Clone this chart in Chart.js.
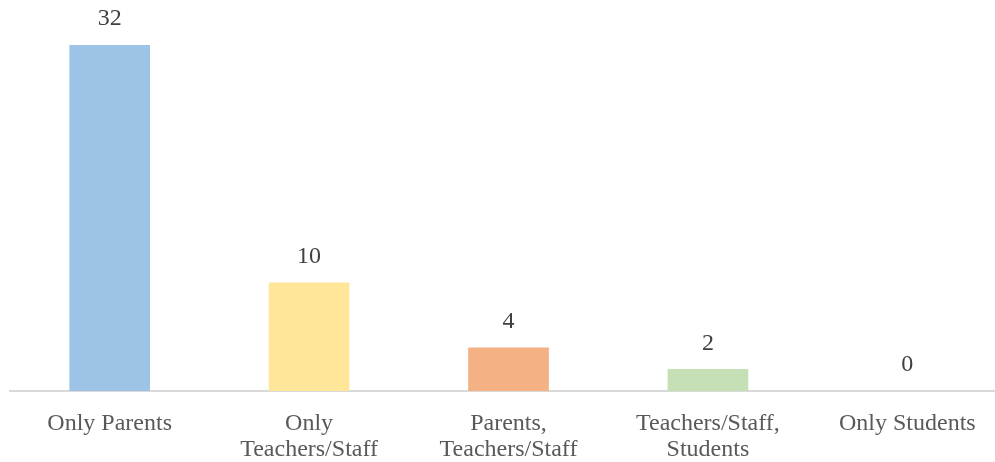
<!DOCTYPE html>
<html lang="en">
<head>
    <meta charset="UTF-8">
    <title>Respondent Groups</title>
    <script src="https://cdn.jsdelivr.net/npm/chart.js"></script>
    <style>
        body {
            margin: 0;
            background: #ffffff;
            overflow: hidden;
        }
        .chart-container {
            width: 1010px;
            height: 462px;
        }
    </style>
</head>
<body>
<div class="chart-container">
    <canvas id="groupChart" width="1010" height="462"></canvas>
</div>

<script>
    // categories (multi-line labels) and counts
    const categories = [
        ['Only Parents'],
        ['Only', 'Teachers/Staff'],
        ['Parents,', 'Teachers/Staff'],
        ['Teachers/Staff,', 'Students'],
        ['Only Students']
    ];
    const counts = [32, 10, 4, 2, 0];
    const barColors = ['#9dc3e6', '#ffe699', '#f4b183', '#c5e0b4', '#d9d9d9'];

    // writes the count above each bar
    const valueLabels = {
        id: 'valueLabels',
        afterDatasetsDraw(chart) {
            const ctx = chart.ctx;
            const meta = chart.getDatasetMeta(0);
            ctx.save();
            ctx.font = '24px "Liberation Serif", serif';
            ctx.fillStyle = '#404040';
            ctx.textAlign = 'center';
            ctx.textBaseline = 'middle';
            meta.data.forEach((bar, i) => {
                ctx.fillText(String(counts[i]), bar.x, bar.y - 26);
            });
            ctx.restore();
        }
    };

    const ctx = document.getElementById('groupChart').getContext('2d');
    new Chart(ctx, {
        type: 'bar',
        data: {
            labels: categories,
            datasets: [{
                data: counts,
                backgroundColor: barColors,
                borderWidth: 0,
                barThickness: 80
            }]
        },
        options: {
            responsive: false,
            animation: false,
            layout: {
                padding: { top: 45, left: 10, right: 3, bottom: 0 }
            },
            plugins: {
                legend: { display: false },
                tooltip: { enabled: false }
            },
            scales: {
                x: {
                    grid: { display: false, drawTicks: false },
                    border: { color: '#d9d9d9', width: 2 },
                    afterFit(scale) {
                        scale.height = 71; // keep the axis line at a fixed height
                    },
                    ticks: {
                        color: '#595959',
                        padding: 20,
                        maxRotation: 0,
                        autoSkip: false,
                        font: { family: '"Liberation Serif", serif', size: 24, lineHeight: 1.08 }
                    }
                },
                y: {
                    display: false,
                    min: 0,
                    max: 32
                }
            }
        },
        plugins: [valueLabels]
    });
</script>
</body>
</html>
